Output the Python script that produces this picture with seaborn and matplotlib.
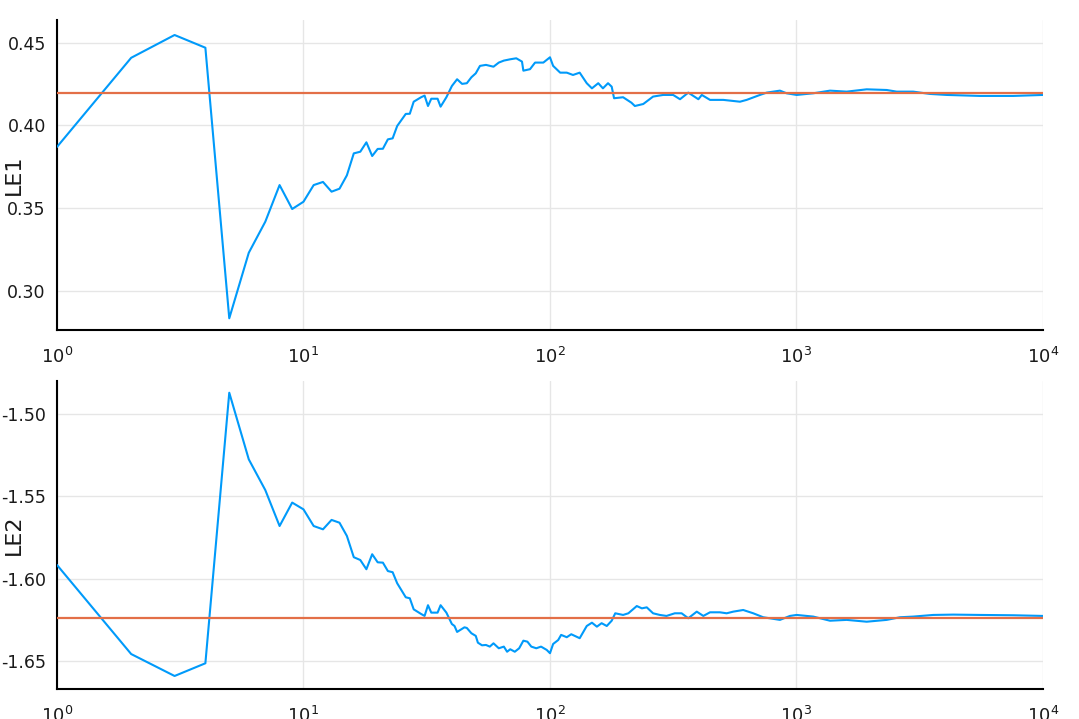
import matplotlib
matplotlib.use("Agg")
import matplotlib.pyplot as plt
import seaborn as sns
import pandas as pd
from matplotlib.ticker import FixedLocator, FormatStrFormatter, LogFormatterMathtext, NullLocator

# ---------------- data ----------------
n_le1 = [1, 2, 3, 4, 5, 6, 7, 8, 9, 10, 11, 12, 13, 14, 15, 16, 17, 18, 19, 20,
         21, 22, 23, 24, 26, 27, 28, 30, 31, 32, 33, 35, 36, 38, 40, 42, 44, 46, 48, 50,
         52, 55, 59, 62, 65, 69, 73, 77, 78, 83, 87, 94, 100, 103, 110, 117, 124, 132, 141, 148,
         157, 164, 172, 178, 182, 198, 214, 221, 239, 262, 288, 316, 337, 364, 400, 413, 446, 505, 590, 628,
         711, 757, 857, 912, 1002, 1170, 1368, 1598, 1927, 2322, 2550, 2977, 3481, 4068, 5551, 7576, 10000]
le1 = [0.3870, 0.4410, 0.4548, 0.4471, 0.2832, 0.3229, 0.3417, 0.3639, 0.3494, 0.3538,
       0.3639, 0.3658, 0.3599, 0.3617, 0.3698, 0.3831, 0.3841, 0.3898, 0.3815, 0.3858,
       0.3859, 0.3916, 0.3922, 0.3997, 0.4070, 0.4071, 0.4144, 0.4171, 0.4181, 0.4118,
       0.4162, 0.4162, 0.4114, 0.4171, 0.4239, 0.4280, 0.4252, 0.4256, 0.4292, 0.4316,
       0.4361, 0.4367, 0.4356, 0.4381, 0.4393, 0.4401, 0.4407, 0.4387, 0.4332, 0.4341,
       0.4381, 0.4381, 0.4413, 0.4361, 0.4320, 0.4320, 0.4306, 0.4320, 0.4256, 0.4225,
       0.4256, 0.4225, 0.4256, 0.4235, 0.4165, 0.4171, 0.4138, 0.4118, 0.4130, 0.4175,
       0.4185, 0.4185, 0.4159, 0.4199, 0.4159, 0.4185, 0.4155, 0.4155, 0.4144, 0.4155,
       0.4185, 0.4199, 0.4211, 0.4195, 0.4185, 0.4195, 0.4211, 0.4205, 0.4219, 0.4215,
       0.4205, 0.4205, 0.4191, 0.4185, 0.4179, 0.4179, 0.4185]

n_le2 = [1, 2, 3, 4, 5, 6, 7, 8, 9, 10, 11, 12, 13, 14, 15, 16, 17, 18, 19, 20,
         21, 22, 23, 24, 26, 27, 28, 30, 31, 32, 33, 35, 36, 38, 40, 41, 42, 45, 46, 48,
         50, 51, 53, 55, 57, 59, 62, 65, 67, 69, 72, 75, 78, 81, 84, 88, 92, 97, 100, 103,
         108, 111, 117, 122, 132, 141, 148, 155, 162, 170, 178, 184, 198, 208, 225, 236, 247, 262, 279, 297,
         321, 342, 364, 394, 419, 446, 489, 521, 554, 608, 668, 733, 857, 941, 1002, 1170,
         1368, 1598, 1927, 2322, 2630, 2977, 3589, 4327, 5551, 7576, 10000]
le2 = [-1.5915, -1.6455, -1.6588, -1.6511, -1.4871, -1.5275, -1.5461, -1.5679, -1.5537, -1.5578,
       -1.5679, -1.5699, -1.5642, -1.5659, -1.5739, -1.5868, -1.5885, -1.5941, -1.5850, -1.5899,
       -1.5901, -1.5952, -1.5959, -1.6026, -1.6111, -1.6117, -1.6184, -1.6212, -1.6224, -1.6159,
       -1.6204, -1.6204, -1.6159, -1.6204, -1.6273, -1.6285, -1.6321, -1.6293, -1.6297, -1.6329,
       -1.6345, -1.6386, -1.6402, -1.6400, -1.6410, -1.6390, -1.6420, -1.6410, -1.6441, -1.6426,
       -1.6441, -1.6420, -1.6374, -1.6380, -1.6410, -1.6420, -1.6410, -1.6430, -1.6450, -1.6394,
       -1.6370, -1.6339, -1.6353, -1.6335, -1.6359, -1.6285, -1.6265, -1.6289, -1.6268, -1.6285,
       -1.6253, -1.6208, -1.6218, -1.6208, -1.6164, -1.6178, -1.6172, -1.6208, -1.6218, -1.6224,
       -1.6208, -1.6208, -1.6238, -1.6198, -1.6224, -1.6202, -1.6202, -1.6208, -1.6198, -1.6188,
       -1.6208, -1.6232, -1.6248, -1.6224, -1.6218, -1.6228, -1.6253, -1.6248, -1.6259, -1.6248,
       -1.6232, -1.6228, -1.6218, -1.6216, -1.6218, -1.6220, -1.6224]

le1_ref = 0.4194
le2_ref = -1.6236

x_ticks = [1, 10, 100, 1000, 10000]
le1_ticks = [0.30, 0.35, 0.40, 0.45]
le2_ticks = [-1.65, -1.60, -1.55, -1.50]
y_labels = ["LE1", "LE2"]

# ---------------- style ----------------
BLUE = "#009AFA"
ORANGE = "#E36F47"
GRID = "#e6e6e6"
TXT = "#1a1a1a"

sns.set_style("white")
plt.rcParams["font.family"] = ["DejaVu Sans"]
plt.rcParams["axes.unicode_minus"] = False
plt.rcParams["mathtext.fontset"] = "dejavusans"

fig = plt.figure(figsize=(10.79, 7.19), dpi=100)
ax1 = fig.add_axes([0.0528, 0.541, 0.9138, 0.4312])
ax2 = fig.add_axes([0.0528, 0.0417, 0.9138, 0.4284])

panels = [
    (ax1, n_le1, le1, le1_ref, le1_ticks, (0.2761, 0.4639), y_labels[0]),
    (ax2, n_le2, le2, le2_ref, le2_ticks, (-1.6667, -1.4800), y_labels[1]),
]

for ax, n, v, ref, yt, ylim, lab in panels:
    df = pd.DataFrame({"n": n, "v": v})
    ax.set_xscale("log")
    sns.lineplot(data=df, x="n", y="v", ax=ax, color=BLUE, lw=1.5,
                 estimator=None, sort=False, zorder=3)
    ax.axhline(ref, color=ORANGE, lw=1.6, zorder=4)
    ax.set_xlim(1, 10000)
    ax.set_ylim(*ylim)
    ax.xaxis.set_major_locator(FixedLocator(x_ticks))
    ax.xaxis.set_minor_locator(NullLocator())
    ax.xaxis.set_major_formatter(LogFormatterMathtext())
    ax.yaxis.set_major_locator(FixedLocator(yt))
    ax.yaxis.set_major_formatter(FormatStrFormatter("%.2f"))
    ax.set_axisbelow(True)
    ax.grid(True, color=GRID, lw=1.0)
    for s in ["top", "right"]:
        ax.spines[s].set_visible(False)
    for s in ["left", "bottom"]:
        ax.spines[s].set_color("black")
        ax.spines[s].set_linewidth(1.5)
    ax.tick_params(axis="y", direction="in", length=10, width=1.5, color="black",
                   labelsize=12.5, pad=8, labelcolor=TXT)
    ax.tick_params(axis="x", direction="in", length=3.5, width=1.5, color="black",
                   labelsize=13, pad=12, labelcolor=TXT)
    ax.set_xlabel("")
    ax.set_ylabel(lab, fontsize=16, color=TXT)
    ax.yaxis.set_label_coords(-0.0335, 0.5)

fig.savefig("out.png", dpi=100)
